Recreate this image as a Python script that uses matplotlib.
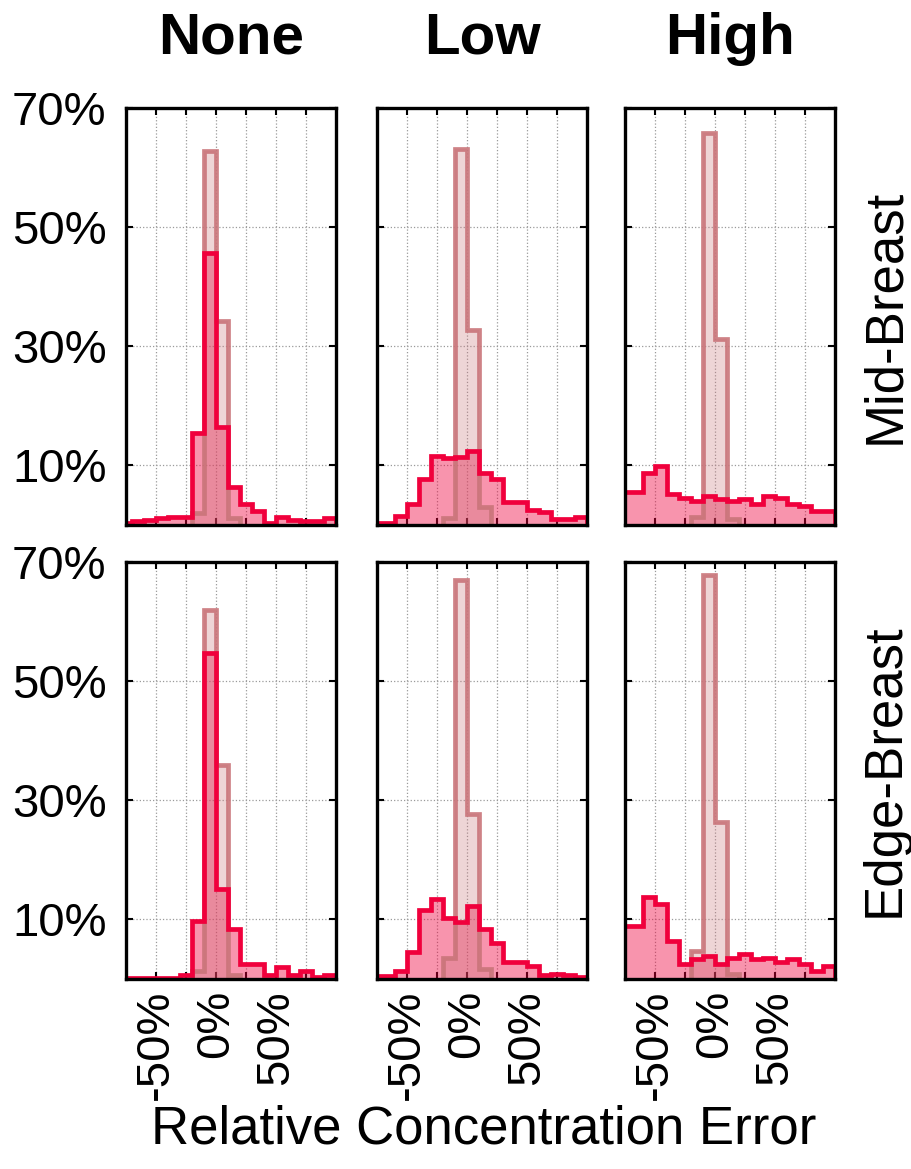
import numpy as np
import matplotlib
matplotlib.use("Agg")
import matplotlib.pyplot as plt

plt.rcParams['font.family'] = ['Liberation Sans', 'DejaVu Sans']

# column / row names
noise_levels = ['None', 'Low', 'High']
regions = ['Mid-Breast', 'Edge-Breast']

# wide histogram: bins of 10% from -80% to 100%
wide_edges = np.arange(-80, 101, 10)
wide_mid_none = [0.3, 0.6, 0.9, 1.1, 1.3, 1.3, 15.5, 45.7, 16.4, 6.3, 3.5, 2.4, 0.3, 1.3, 0.9, 0.6, 0.7, 1.1]
wide_mid_low = [0.3, 0.4, 1.5, 3.5, 7.7, 11.5, 11.2, 11.4, 12.5, 8.8, 7.8, 3.8, 3.8, 2.6, 2.2, 1.0, 1.0, 1.3]
wide_mid_high = [5.5, 5.5, 8.8, 9.9, 5.2, 4.6, 4.1, 4.9, 4.4, 4.1, 4.4, 3.5, 4.9, 4.6, 3.5, 3.2, 2.4, 2.4]
wide_edge_none = [0.1, 0.1, 0.1, 0.1, 0.1, 0.7, 9.8, 54.7, 15.1, 8.4, 2.5, 2.5, 0.6, 2.0, 0.6, 1.3, 0.3, 0.6]
wide_edge_low = [0.5, 0.5, 1.3, 4.5, 11.5, 13.4, 10.3, 9.5, 12.3, 8.4, 6.1, 2.8, 2.8, 2.2, 0.6, 0.9, 0.7, 0.3]
wide_edge_high = [8.9, 8.9, 13.7, 12.6, 6.4, 2.5, 3.4, 3.9, 2.5, 3.6, 4.2, 3.4, 3.6, 2.8, 3.4, 2.5, 1.4, 2.2]

# narrow histogram: bins of 10% from -20% to 20%
narrow_edges = np.arange(-20, 21, 10)
narrow_mid_none = [2.0, 62.7, 34.2, 1.1]
narrow_mid_low = [1.1, 63.1, 32.7, 3.1]
narrow_mid_high = [1.3, 65.8, 31.3, 1.0]
narrow_edge_none = [1.4, 62.0, 35.9, 0.7]
narrow_edge_low = [3.6, 67.0, 27.7, 1.7]
narrow_edge_high = [4.7, 67.8, 26.3, 0.8]

wide = [[wide_mid_none, wide_mid_low, wide_mid_high],
        [wide_edge_none, wide_edge_low, wide_edge_high]]
narrow = [[narrow_mid_none, narrow_mid_low, narrow_mid_high],
          [narrow_edge_none, narrow_edge_low, narrow_edge_high]]

xticks = [-50, -25, 0, 25, 50, 75]
xticklabels = ['-50%', '', '0%', '', '50%', '']
yticks = [10, 30, 50, 70]
yticklabels = ['10%', '30%', '50%', '70%']

red = '#F0003C'
muted = '#C97479'

W, H = 911, 1169
fig = plt.figure(figsize=(W / 100, H / 100), dpi=100)

col_left = [126, 377, 625]
row_top = [108, 562]
ax_w, ax_h = 210, 417

for r in range(2):
    for c in range(3):
        ax = fig.add_axes([col_left[c] / W, 1 - (row_top[r] + ax_h) / H, ax_w / W, ax_h / H])

        ax.stairs(wide[r][c], wide_edges, fill=True, color=red, alpha=0.42, linewidth=0)
        ax.stairs(narrow[r][c], narrow_edges, fill=True, color=muted, alpha=0.3, linewidth=0)
        ax.stairs(narrow[r][c], narrow_edges, baseline=0, color=muted, alpha=0.9, linewidth=3.4)
        ax.stairs(wide[r][c], wide_edges, baseline=0, color=red, linewidth=3.4)

        ax.set_xlim(-75, 100)
        ax.set_ylim(0, 70)
        ax.set_axisbelow(True)
        ax.set_xticks(xticks)
        ax.set_yticks(yticks)
        ax.grid(True, linestyle=':', color='#9a9a9a', linewidth=0.9)
        ax.tick_params(direction='in', length=5, width=1.5, top=True, right=True)
        ax.tick_params(axis='y', labelsize=34, pad=14)
        ax.tick_params(axis='x', labelsize=34, pad=8, labelrotation=90)
        for s in ax.spines.values():
            s.set_linewidth(2.4)
            s.set_color('black')
            s.set_zorder(5)

        if c == 0:
            ax.set_yticklabels(yticklabels)
        else:
            ax.set_yticklabels([])
        if r == 1:
            ax.set_xticklabels(xticklabels)
        else:
            ax.set_xticklabels([])

for c in range(3):
    fig.text((col_left[c] + ax_w / 2) / W, 1 - 39 / H, noise_levels[c],
             fontsize=42, fontweight='bold', ha='center', va='center')

for r in range(2):
    fig.text(885 / W, 1 - (row_top[r] + ax_h / 2) / H, regions[r],
             fontsize=38, rotation=90, ha='center', va='center')

fig.text(484 / W, 1 - 1130 / H, 'Relative Concentration Error', fontsize=38, ha='center', va='center')

fig.savefig('out.png', dpi=100)
